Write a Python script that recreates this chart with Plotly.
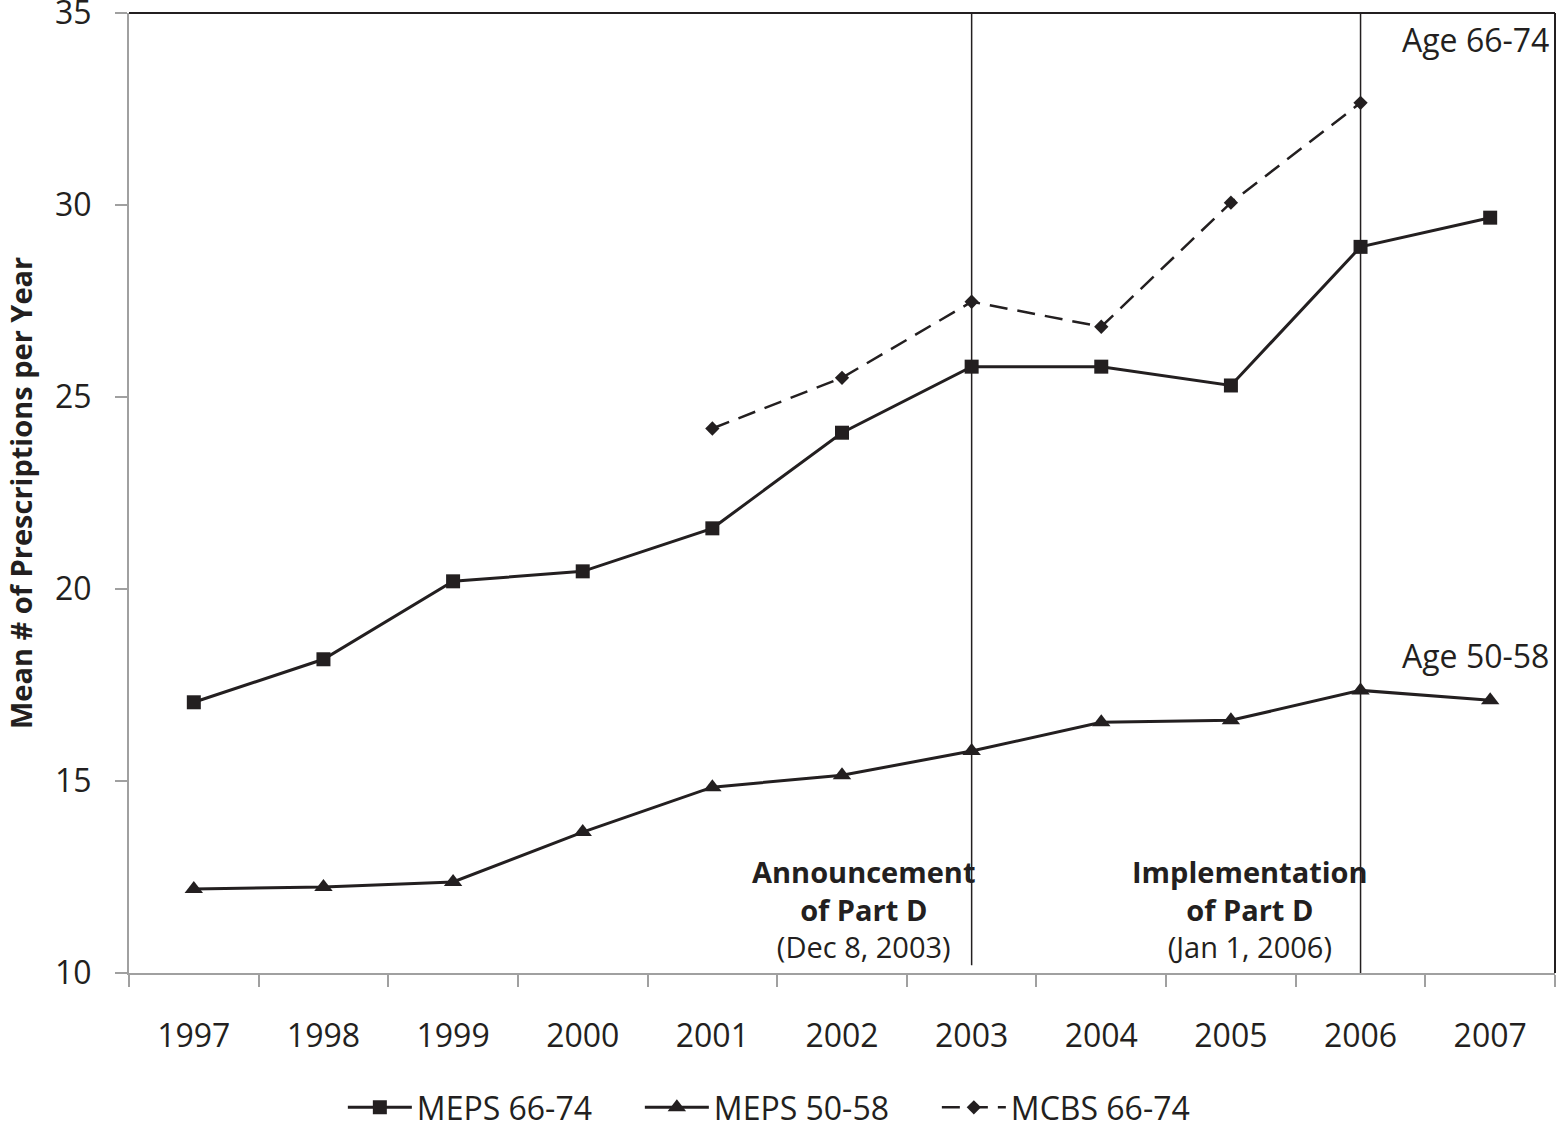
import plotly.graph_objects as go

years = ["1997", "1998", "1999", "2000", "2001", "2002", "2003", "2004", "2005", "2006", "2007"]
meps_66_74 = [17.05, 18.17, 20.2, 20.46, 21.58, 24.07, 25.79, 25.79, 25.3, 28.91, 29.67]
meps_50_58 = [12.19, 12.24, 12.37, 13.67, 14.84, 15.15, 15.78, 16.53, 16.58, 17.36, 17.1]
mcbs_years = ["2001", "2002", "2003", "2004", "2005", "2006"]
mcbs_66_74 = [24.18, 25.5, 27.48, 26.83, 30.06, 32.66]

ink = "#231f20"
grey = "#a0a0a0"
font_family = "Open Sans"

fig = go.Figure()
fig.add_trace(go.Scatter(
    x=years, y=meps_66_74, name="MEPS 66-74", mode="lines+markers",
    line=dict(color=ink, width=3),
    marker=dict(symbol="square", size=14, color=ink),
))
fig.add_trace(go.Scatter(
    x=years, y=meps_50_58, name="MEPS 50-58", mode="lines+markers",
    line=dict(color=ink, width=3),
    marker=dict(symbol="triangle-up", size=16, color=ink),
))
fig.add_trace(go.Scatter(
    x=mcbs_years, y=mcbs_66_74, name="MCBS 66-74", mode="lines+markers",
    line=dict(color=ink, width=2.5, dash="18px,10px"),
    marker=dict(symbol="diamond", size=11, color=ink),
))

# Vertical event lines (2003 announcement, 2006 implementation)
fig.add_shape(type="line", xref="x", yref="y", x0=6, x1=6, y0=10.2, y1=35,
              line=dict(color=ink, width=1.5))
fig.add_shape(type="line", xref="x", yref="y", x0=9, x1=9, y0=10, y1=35,
              line=dict(color=ink, width=1.5))
# Top and right border
fig.add_shape(type="line", xref="paper", yref="paper", x0=0, x1=1, y0=1, y1=1,
              line=dict(color=ink, width=2))
fig.add_shape(type="line", xref="paper", yref="paper", x0=1, x1=1, y0=0, y1=1,
              line=dict(color=ink, width=2))

fig.add_annotation(xref="paper", yref="y", x=1, y=34.3, xanchor="right", xshift=-4,
                   text="Age 66-74", showarrow=False,
                   font=dict(size=32, color=ink, family=font_family))
fig.add_annotation(xref="paper", yref="y", x=1, y=18.27, xanchor="right", xshift=-4,
                   text="Age 50-58", showarrow=False,
                   font=dict(size=32, color=ink, family=font_family))
fig.add_annotation(xref="x", yref="y", x=5.17, y=11.66, xanchor="center", yanchor="middle",
                   text="<b>Announcement</b><br><b>of Part D</b><br>(Dec 8, 2003)",
                   align="center", showarrow=False,
                   font=dict(size=29, color=ink, family=font_family))
fig.add_annotation(xref="x", yref="y", x=8.15, y=11.66, xanchor="center", yanchor="middle",
                   text="<b>Implementation</b><br><b>of Part D</b><br>(Jan 1, 2006)",
                   align="center", showarrow=False,
                   font=dict(size=29, color=ink, family=font_family))
# Y axis title
fig.add_annotation(xref="paper", yref="paper", x=0, y=0.5, xanchor="center", yanchor="middle",
                   xshift=-109, textangle=-90,
                   text="<b>Mean # of Prescriptions per Year</b>", showarrow=False,
                   font=dict(size=29, color=ink, family=font_family))

fig.update_layout(
    width=1558, height=1132,
    margin=dict(l=129, r=3, t=13, b=159, autoexpand=False),
    paper_bgcolor="white", plot_bgcolor="white",
    font=dict(family=font_family, color=ink, size=32),
    showlegend=True,
    legend=dict(orientation="h", xref="container", yref="container",
                x=0.506, xanchor="center", y=0.0459, yanchor="top",
                font=dict(size=32, color=ink, family=font_family),
                itemwidth=64, entrywidth=218, traceorder="normal"),
)
fig.update_xaxes(
    type="category", categoryorder="array", categoryarray=years,
    range=[-0.5, 10.5], tickson="boundaries",
    ticks="outside", ticklen=12, tickwidth=2, tickcolor=grey,
    showline=True, linecolor=grey, linewidth=2, showgrid=False, zeroline=False,
    tickfont=dict(size=32, color=ink, family=font_family),
    ticklabelstandoff=34, automargin=False,
)
fig.update_yaxes(
    range=[10, 35], tickvals=[10, 15, 20, 25, 30, 35],
    ticks="outside", ticklen=12, tickwidth=2, tickcolor=grey,
    showline=True, linecolor=grey, linewidth=2, showgrid=False, zeroline=False,
    tickfont=dict(size=32, color=ink, family=font_family),
    ticklabelstandoff=17, ticklabeloverflow="allow", automargin=False,
)

fig.write_html("out.html", config={"displayModeBar": False},
               post_script="document.body.style.margin='0';document.body.style.padding='0';")
